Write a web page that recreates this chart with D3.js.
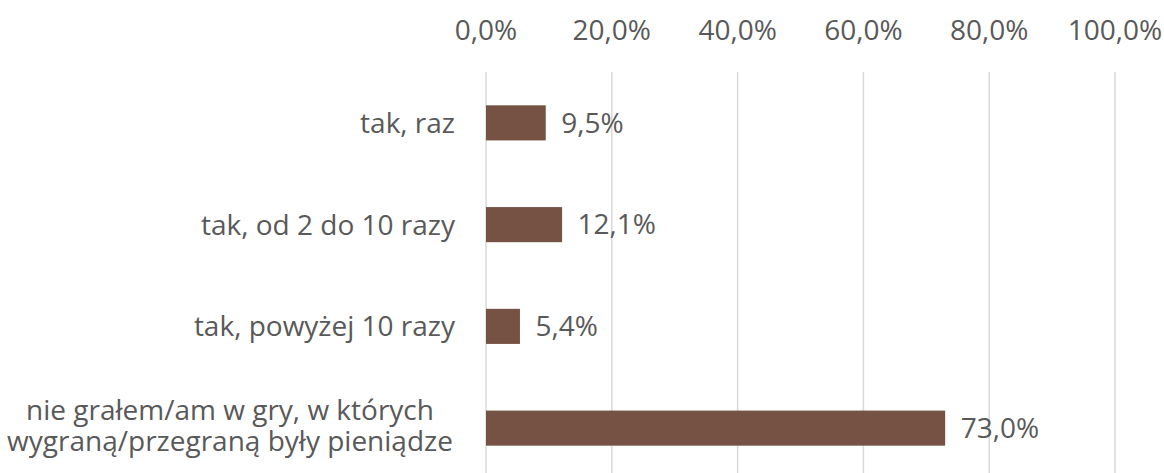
<!DOCTYPE html>
<html lang="pl">
<head>
  <meta charset="UTF-8">
  <title>Wykres</title>
  <script src="https://cdn.jsdelivr.net/npm/d3@7/dist/d3.min.js"></script>
  <style>
    body { margin: 0; background: #fff; }
    text { font-family: "Open Sans", "Noto Sans", sans-serif; fill: #595959; }
  </style>
</head>
<body>
  <script>
    const categories = [
      ['tak, raz'],
      ['tak, od 2 do 10 razy'],
      ['tak, powyżej 10 razy'],
      ['nie grałem/am w gry, w których', 'wygraną/przegraną były pieniądze']
    ]
    const values = [9.5, 12.1, 5.4, 73.0]
    const ticks = [0, 20, 40, 60, 80, 100]

    const width = 1164, height = 473
    const mLeft = 485.5, mRight = 1114.5, mTop = 72, mBottom = 479
    const fontSize = 28

    const fmt = v => v.toFixed(1).replace('.', ',') + '%'

    const x = d3.scaleLinear().domain([0, 100]).range([mLeft, mRight])
    const y = d3.scaleBand().domain(d3.range(categories.length)).range([mTop, mBottom]).paddingInner(0.655).paddingOuter(0.3275)

    const svg = d3.select('body')
      .append('svg')
      .attr('width', width)
      .attr('height', height)

    // oś x u góry + linie siatki
    const xAxis = d3.axisTop(x)
      .tickValues(ticks)
      .tickSizeInner(-(height - mTop))
      .tickSizeOuter(0)
      .tickPadding(32)
      .tickFormat(fmt)

    const gx = svg.append('g')
      .attr('transform', `translate(0,${mTop})`)
      .call(xAxis)
    gx.select('.domain').remove()
    gx.selectAll('.tick line').attr('stroke', '#d9d9d9').attr('stroke-width', 1.5)
    gx.selectAll('.tick text')
      .attr('fill', '#595959')
      .style('font-size', fontSize + 'px')
      .style('font-family', '"Open Sans", "Noto Sans", sans-serif')

    // słupki
    svg.append('g')
      .selectAll('rect')
      .data(values)
      .join('rect')
      .attr('x', x(0) + 0.5)
      .attr('y', (d, i) => y(i))
      .attr('width', d => x(d) - x(0))
      .attr('height', y.bandwidth())
      .attr('fill', '#765244')

    // etykiety danych
    svg.append('g')
      .selectAll('text')
      .data(values)
      .join('text')
      .attr('x', d => x(d) + 16)
      .attr('y', (d, i) => y(i) + y.bandwidth() / 2)
      .attr('dy', '0.35em')
      .style('font-size', fontSize + 'px')
      .text(d => fmt(d))

    // etykiety kategorii
    const lineH = 31
    const cat = svg.append('g')
      .selectAll('text')
      .data(categories)
      .join('text')
      .attr('text-anchor', d => d.length > 1 ? 'middle' : 'end')
      .attr('x', d => d.length > 1 ? 230 : 455)
      .attr('y', (d, i) => y(i) + y.bandwidth() / 2)
      .style('font-size', fontSize + 'px')

    cat.selectAll('tspan')
      .data(d => d.map((t, j) => ({ t, j, n: d.length })))
      .join('tspan')
      .attr('x', function () { return d3.select(this.parentNode).attr('x') })
      .attr('dy', d => d.j === 0 ? (d.n > 1 ? (-(d.n - 1) / 2) * lineH + 7.5 : 10) + 'px' : lineH + 'px')
      .text(d => d.t)
  </script>
</body>
</html>
